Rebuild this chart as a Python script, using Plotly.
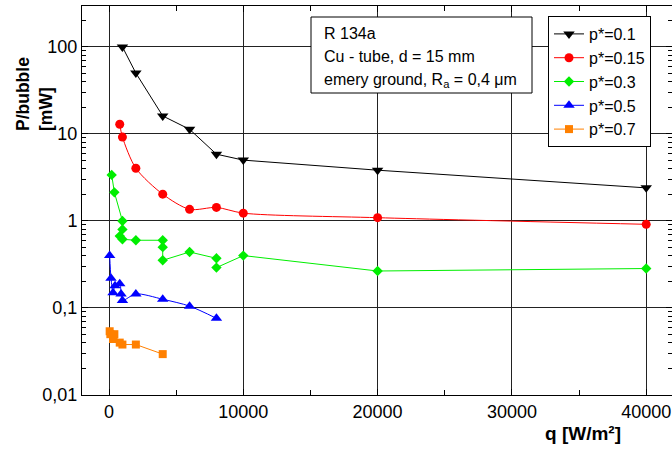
import plotly.graph_objects as go

# ---- data ----
q_01 = [1000, 2000, 4000, 6000, 8000, 10000, 20000, 40000]
p_01 = [100, 50, 16.1, 11.3, 5.85, 5.0, 3.83, 2.4]

q_015 = [800, 1000, 2000, 4000, 6000, 8000, 10000, 20000, 40000]
p_015 = [12.9, 9.2, 4.03, 2.03, 1.36, 1.43, 1.23, 1.09, 0.915]

q_03 = [200, 400, 1000, 1000, 800, 1000, 2000, 4000, 4000, 4000, 6000, 8000, 8000, 10000, 20000, 40000]
p_03 = [3.38, 2.13, 1.0, 0.80, 0.67, 0.615, 0.60, 0.60, 0.50, 0.353, 0.44, 0.372, 0.291, 0.40, 0.266, 0.284]

q_05 = [50, 150, 300, 450, 800, 900, 1000, 2000, 4000, 6000, 8000]
p_05 = [0.40, 0.22, 0.15, 0.18, 0.19, 0.145, 0.122, 0.145, 0.126, 0.105, 0.076]

q_07 = [50, 100, 300, 400, 800, 1000, 2000, 4000]
p_07 = [0.054, 0.050, 0.044, 0.050, 0.040, 0.038, 0.038, 0.0295]

x_ticks = [0, 10000, 20000, 30000, 40000]
x_ticktext = ["0", "10000", "20000", "30000", "40000"]
y_ticks = [0.01, 0.1, 1, 10, 100]
y_ticktext = ["0,01", "0,1", "1", "10", "100"]

FONT = "Liberation Sans, Arial, sans-serif"

series = [
    ("p*=0.1", q_01, p_01, "#000000", "triangle-down", 10, "linear"),
    ("p*=0.15", q_015, p_015, "#ff0000", "circle", 9, "spline"),
    ("p*=0.3", q_03, p_03, "#00ee00", "diamond", 8, "linear"),
    ("p*=0.5", q_05, p_05, "#0000ff", "triangle-up", 10, "spline"),
    ("p*=0.7", q_07, p_07, "#ff8000", "square", 8, "linear"),
]

fig = go.Figure()
for name, xs, ys, col, sym, sz, shp in series:
    fig.add_trace(go.Scatter(
        x=xs, y=ys, name=name, mode="lines+markers",
        line=dict(color=col, width=1, shape=shp, smoothing=0.8),
        marker=dict(color=col, symbol=sym, size=sz, line=dict(width=0)),
    ))

minor_y = [m * 10 ** e for e in range(-2, 3) for m in range(2, 10)]

fig.update_layout(
    width=672, height=450,
    margin=dict(l=82, r=0, t=6, b=55),
    paper_bgcolor="white", plot_bgcolor="white",
    font=dict(family=FONT, size=18, color="black"),
    showlegend=True,
    legend=dict(
        x=(548 - 82) / 590, y=1 - (16 - 6) / 389, xanchor="left", yanchor="top",
        bordercolor="black", borderwidth=1, bgcolor="white",
        font=dict(family=FONT, size=16, color="black"),
        tracegroupgap=0,
    ),
    xaxis=dict(
        range=[-2010, 41920],
        tickmode="array", tickvals=x_ticks, ticktext=x_ticktext,
        ticks="inside", ticklen=6, tickcolor="black",
        showline=True, linecolor="black", linewidth=1, mirror="ticks",
        showgrid=True, gridcolor="#222222", gridwidth=1,
        zeroline=False,
        minor=dict(dtick=5000, tick0=0, ticks="inside", ticklen=5, tickcolor="black", showgrid=False),
        tickfont=dict(size=18),
    ),
    yaxis=dict(
        type="log", range=[-2, 2.47],
        tickmode="array", tickvals=y_ticks, ticktext=y_ticktext,
        ticks="inside", ticklen=6, tickcolor="black",
        showline=True, linecolor="black", linewidth=1, mirror="ticks",
        showgrid=True, gridcolor="#222222", gridwidth=1,
        zeroline=False,
        minor=dict(tickmode="array", tickvals=minor_y, ticks="inside", ticklen=4,
                   tickcolor="black", showgrid=False),
        tickfont=dict(size=18),
    ),
)

# info box
fig.add_shape(type="rect", xref="paper", yref="paper",
              x0=(311 - 82) / 590, x1=(532 - 82) / 590,
              y0=1 - (93 - 6) / 389, y1=1 - (17 - 6) / 389,
              line=dict(color="black", width=1), fillcolor="white", layer="above")
info_lines = ["R 134a", "Cu - tube, d = 15 mm", "emery ground, R<sub>a</sub> = 0,4 \u03bcm"]
info_y = [33, 57, 80]
for t, yy in zip(info_lines, info_y):
    fig.add_annotation(text=t, xref="paper", yref="paper",
                       x=(322 - 82) / 590, y=1 - (yy - 6) / 389,
                       xanchor="left", yanchor="middle", showarrow=False,
                       font=dict(family=FONT, size=16, color="black"))

# axis titles
fig.add_annotation(text="<b>P/bubble<br>[mW]</b>", xref="paper", yref="paper",
                   x=(34 - 82) / 590, y=1 - (133 - 6) / 389,
                   xanchor="center", yanchor="bottom", textangle=-90, align="left",
                   showarrow=False, font=dict(family=FONT, size=17.5, color="black"))
fig.add_annotation(text="<b>q [W/m\u00b2]</b>", xref="paper", yref="paper",
                   x=(583 - 82) / 590, y=1 - (433 - 6) / 389,
                   xanchor="center", yanchor="middle", showarrow=False,
                   font=dict(family=FONT, size=19, color="black"))

fig.write_html("out.html")
